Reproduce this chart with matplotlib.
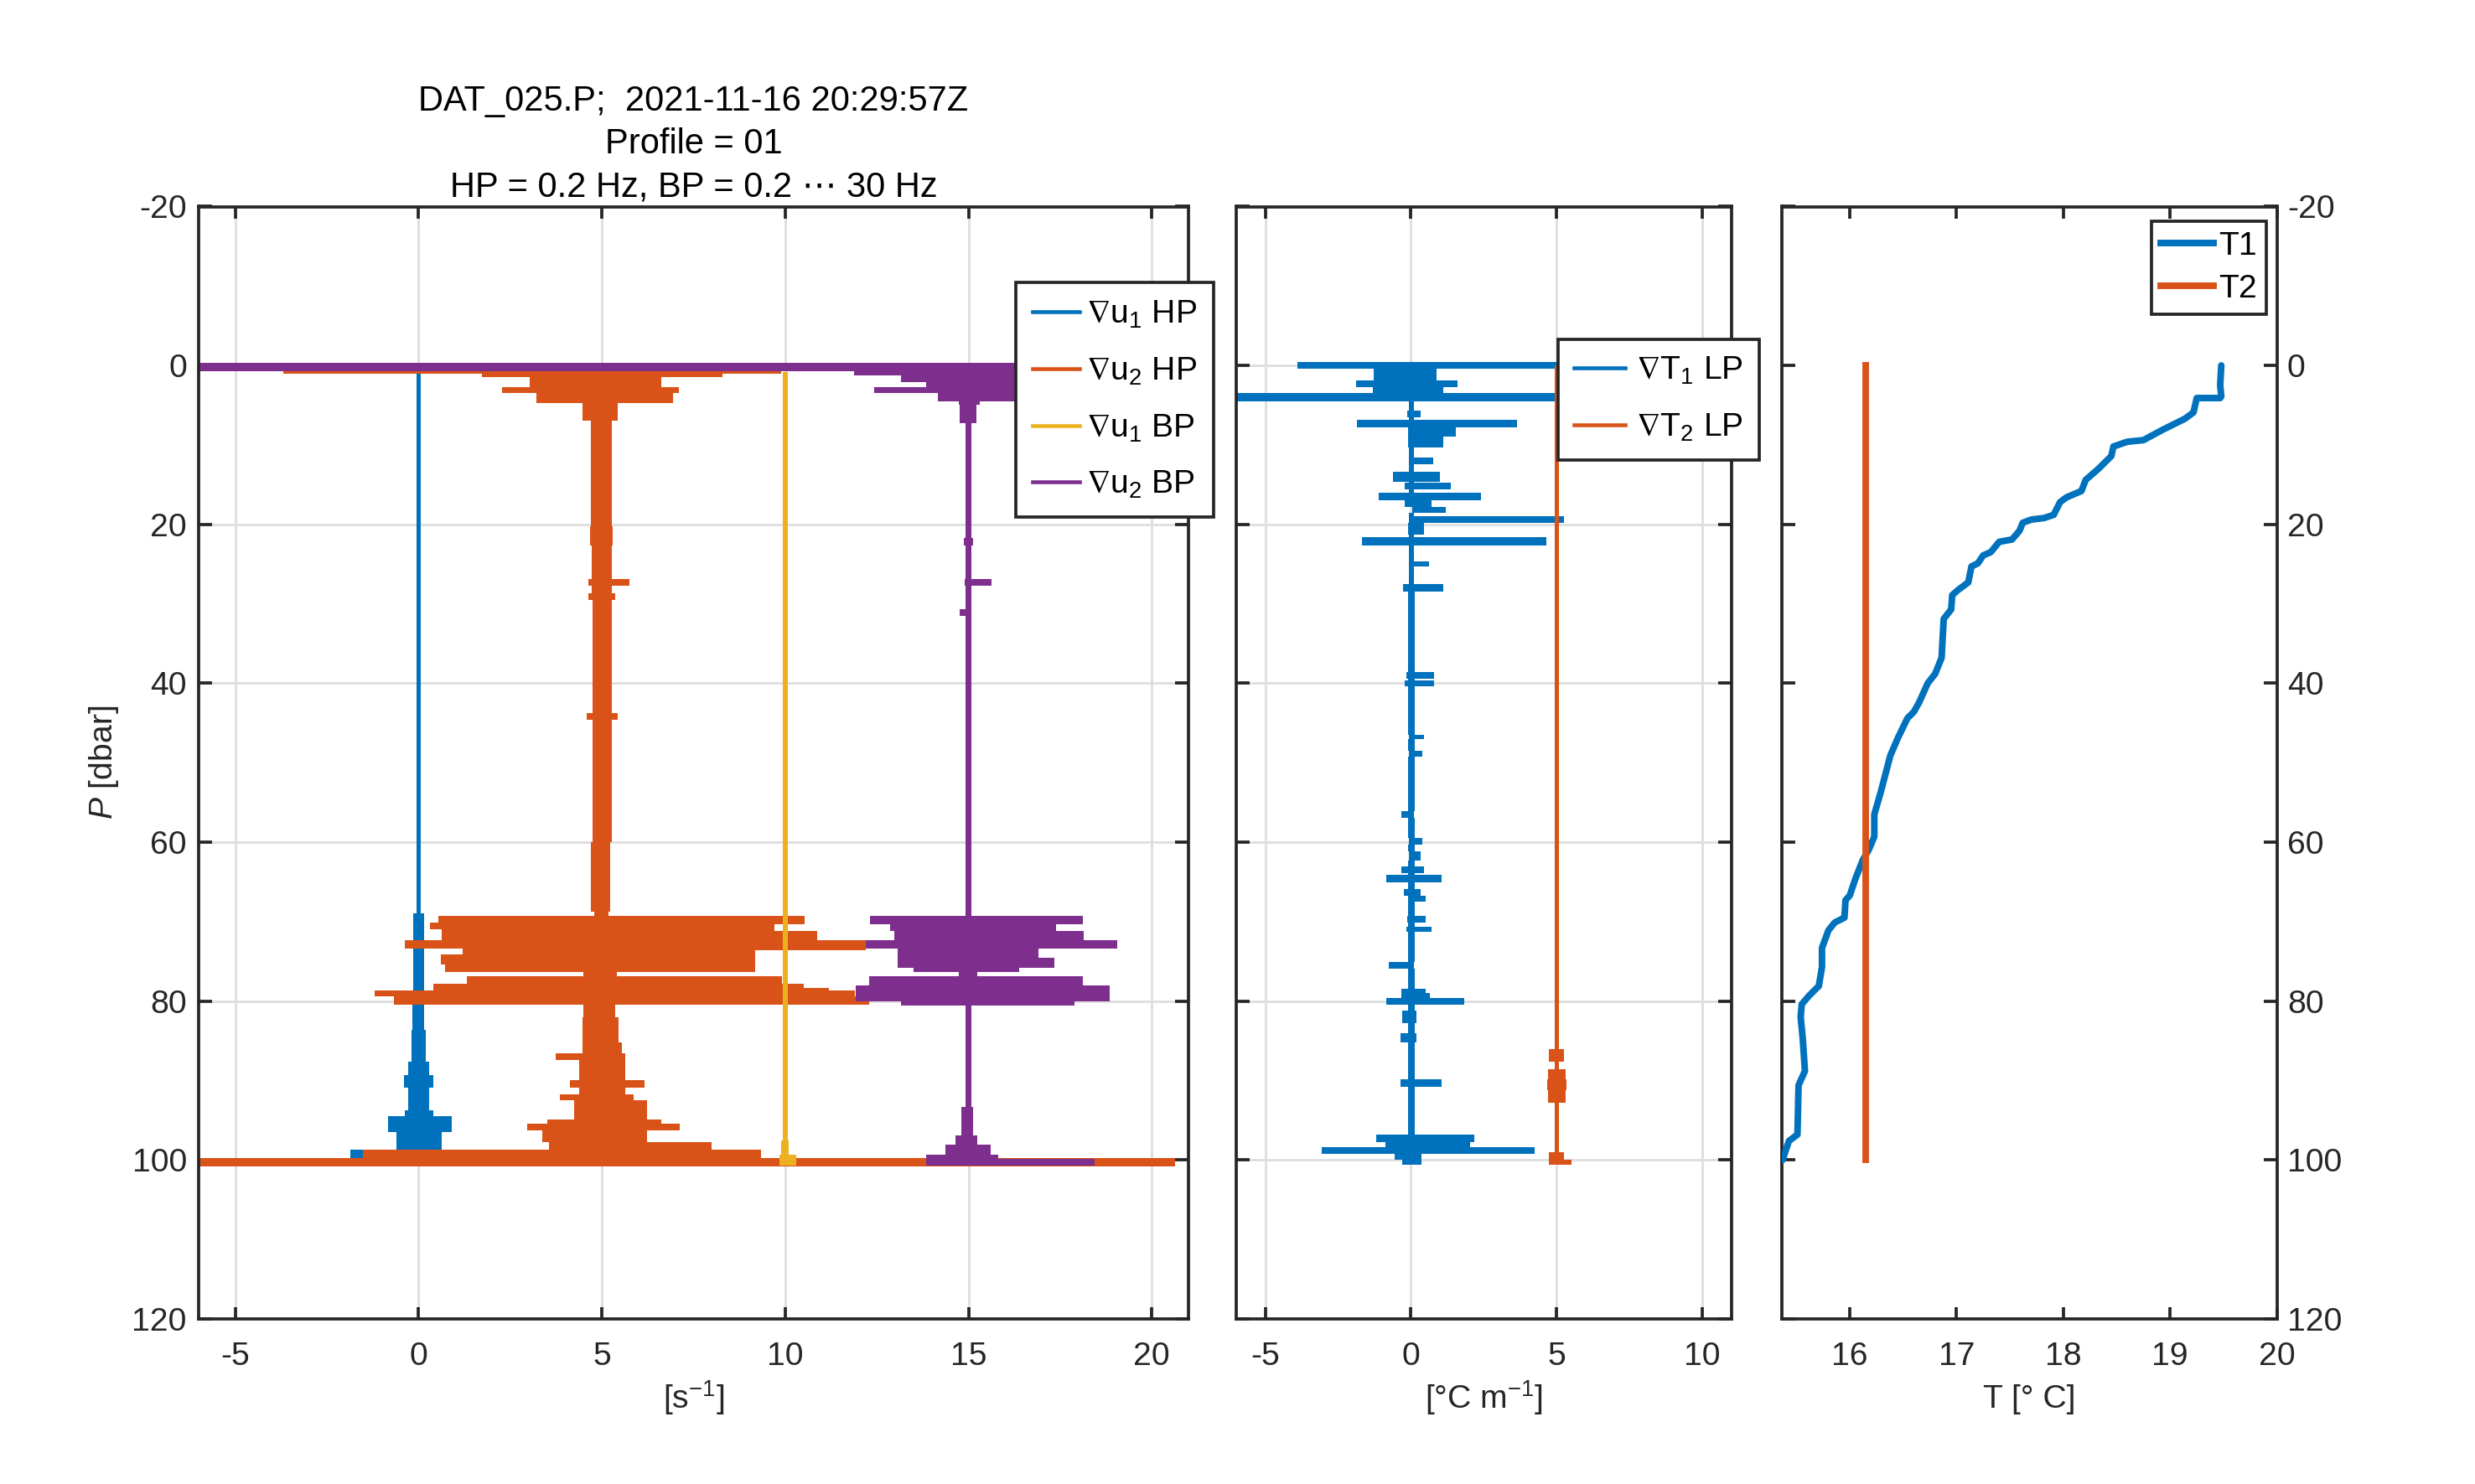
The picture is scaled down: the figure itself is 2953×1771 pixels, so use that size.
import matplotlib
matplotlib.use('Agg')
import matplotlib.pyplot as plt
from matplotlib.lines import Line2D

plt.rcParams['font.family'] = ['Liberation Sans', 'DejaVu Sans']
plt.rcParams['mathtext.fontset'] = 'custom'
plt.rcParams['mathtext.rm'] = 'Liberation Sans'
plt.rcParams['mathtext.it'] = 'Liberation Sans:italic'
plt.rcParams['mathtext.bf'] = 'Liberation Sans:bold'
plt.rcParams['mathtext.fallback'] = 'stixsans'
plt.rcParams['axes.unicode_minus'] = False

# ---------------- data (envelopes of the noisy profiles) ----------------
# value i holds from p[i] to p[i+1]
u1hp_p  = [0.9, 69.0, 80.4, 83.6, 87.6, 89.3, 90.9, 93.7, 94.5, 96.5, 98.7, 99.7]
u1hp_lo = [-0.06, -0.14, -0.16, -0.2, -0.29, -0.41, -0.29, -0.37, -0.84, -0.6, -1.87, -1.87]
u1hp_hi = [0.06, 0.14, 0.16, 0.19, 0.28, 0.41, 0.29, 0.39, 0.9, 0.63, 0.84, 0.84]

u2hp_p  = [0.69, 1.09, 1.49, 2.70, 3.51, 4.72, 6.94, 20.2, 22.7, 26.9, 27.7, 28.7, 29.5, 43.8, 44.6,
           60.0, 68.7, 69.26, 70.14, 70.34, 70.95, 71.15, 72.35, 73.36, 73.56, 74.16, 75.37, 76.38,
           76.86, 77.79, 78.39, 78.71, 79.4, 80.4, 82.0, 85.2, 86.6, 87.4, 89.9, 90.9, 91.7, 92.5,
           94.9, 95.4, 96.3, 97.7, 98.7, 99.7, 100.8]
u2hp_lo = [-3.7, 1.72, 3.03, 2.27, 3.21, 4.47, 4.71, 4.68, 4.72, 4.62, 4.72, 4.62, 4.74, 4.58, 4.74,
           4.71, 4.78, 0.54, 0.32, 0.32, 0.63, 0.63, -0.37, 1.2, 1.2, 0.6, 0.72, 4.5,
           1.32, 0.41, 0.41, -1.21, -0.68, 4.49, 4.47, 4.47, 3.75, 4.38, 4.12, 4.38, 3.86, 4.25,
           3.51, 2.96, 3.38, 3.55, -1.52, -6.0, -6.0]
u2hp_hi = [9.9, 8.3, 6.61, 7.11, 6.94, 5.43, 5.28, 5.30, 5.27, 5.74, 5.27, 5.37, 5.26, 5.42, 5.26,
           5.23, 5.17, 10.53, 10.53, 9.7, 9.7, 10.88, 12.19, 12.19, 9.18, 9.18, 9.18, 5.4,
           9.92, 10.5, 11.2, 11.9, 12.3, 5.36, 5.45, 5.54, 5.63, 5.63, 6.16, 5.63, 5.87, 6.22,
           6.61, 7.13, 6.22, 8.0, 9.35, 20.63, 20.63]

u1bp_p  = [0.8, 97.5, 99.3, 100.7]
u1bp_lo = [9.935, 9.9, 9.85, 9.85]
u1bp_hi = [10.065, 10.1, 10.29, 10.29]

u2bp_p  = [-0.32, 0.69, 1.29, 2.1, 2.7, 3.5, 4.5, 4.9, 7.3, 21.7, 22.7, 26.9, 27.7, 30.7, 31.5,
           69.26, 70.34, 71.15, 72.35, 73.36, 74.57, 75.77, 76.38, 76.86, 77.99, 80.0, 80.6,
           93.28, 96.9, 98.1, 99.3, 99.9, 100.7]
u2bp_lo = [-6.0, 11.88, 13.15, 13.85, 12.43, 14.16, 14.73, 14.77, 14.91, 14.88, 14.91, 14.9, 14.91, 14.75, 14.91,
           12.32, 12.85, 12.98, 12.19, 13.07, 13.07, 13.5, 14.73, 12.28, 11.93, 13.15, 14.91,
           14.81, 14.64, 14.38, 13.85, 13.85, 13.85]
u2bp_hi = [19.5, 19.0, 18.5, 18.0, 17.5, 17.2, 15.3, 15.21, 15.08, 15.12, 15.08, 15.63, 15.08, 15.08, 15.08,
           18.12, 17.39, 18.14, 19.05, 16.91, 17.35, 16.39, 15.25, 18.12, 18.85, 17.88, 15.08,
           15.12, 15.25, 15.61, 15.82, 18.44, 18.44]

gT1_p  = [-0.4, 0.4, 1.9, 2.7, 3.5, 4.52, 5.73, 6.53, 6.85, 7.74, 8.95, 10.36, 11.57, 12.38, 13.39,
          14.6, 14.8, 15.6, 16.0, 17.0, 17.8, 18.5, 18.95, 19.84, 21.25, 21.65, 22.66, 24.68, 25.28,
          27.5, 28.5, 38.6, 39.4, 39.6, 40.4, 46.45, 47.06, 48.47, 49.27, 56.1, 56.9,
          59.5, 60.3, 61.1, 62.3, 63.1, 63.9, 64.1, 65.1, 65.9, 66.7, 67.5, 69.3, 70.1, 70.6, 71.3,
          75.1, 75.9, 78.4, 79.0, 79.6, 80.4, 81.2, 82.8, 84.0, 85.2, 89.8, 90.8, 96.8, 97.8, 98.4,
          99.2, 100.0, 100.6]
gT1_lo = [-3.91, -1.27, -1.89, -1.32, -6.0, -0.06, -0.13, -0.06, -1.84, -0.11, -0.1, -0.06, -0.06, -0.06, -0.61,
          -0.06, -0.22, -0.06, -1.1, -0.22, 0.06, -0.06, -0.06, -0.11, -0.06, -1.67, -0.06, -0.06, -0.06,
          -0.28, -0.09, -0.17, -0.09, -0.22, -0.09, -0.06, -0.09, -0.06, -0.09, -0.33, -0.09,
          -0.06, -0.09, -0.06, -0.09, -0.33, -0.09, -0.85, -0.09, -0.24, -0.11, -0.09, -0.13, -0.09, -0.17, -0.09,
          -0.77, -0.09, -0.33, -0.33, -0.85, -0.09, -0.31, -0.09, -0.35, -0.09, -0.35, -0.09, -1.19, -0.88, -3.05,
          -0.55, -0.3, -0.3]
gT1_hi = [5.5, 0.88, 1.6, 1.1, 5.3, 0.11, 0.33, 0.11, 3.63, 1.54, 1.1, 0.11, 0.77, 0.11, 0.99,
          0.11, 1.38, 0.11, 2.42, 0.72, 1.19, 0.11, 5.25, 0.44, 0.11, 4.64, 0.11, 0.61, 0.11,
          1.1, 0.13, 0.8, 0.13, 0.8, 0.13, 0.44, 0.13, 0.39, 0.13, 0.11, 0.13,
          0.39, 0.13, 0.33, 0.13, 0.44, 0.13, 1.05, 0.13, 0.33, 0.5, 0.13, 0.5, 0.13, 0.72, 0.13,
          0.11, 0.13, 0.5, 0.66, 1.82, 0.13, 0.2, 0.13, 0.2, 0.13, 1.05, 0.13, 2.17, 2.04, 4.24,
          0.36, 0.36, 0.36]

gT2_p  = [0.0, 86.0, 87.6, 88.6, 89.8, 91.2, 92.8, 99.0, 100.0, 100.6]
gT2_lo = [4.93, 4.73, 4.93, 4.72, 4.68, 4.72, 4.93, 4.73, 4.73, 4.73]
gT2_hi = [5.08, 5.25, 5.08, 5.3, 5.34, 5.3, 5.08, 5.25, 5.53, 5.53]

T1_p = [0, 2.5, 3.9, 4.1, 4.1, 5.9, 6.7, 8.1, 9.4, 9.6, 10.2, 11.4, 13.0, 14.4, 15.8, 16.6, 17.2, 18.8,
        19.2, 19.4, 19.8, 20.8, 21.9, 22.2, 23.5, 23.9, 24.9, 25.3, 27.3, 28.3, 28.9, 30.7, 31.9, 36.8,
        38.8, 40.0, 42.4, 43.6, 44.4, 46.9, 49.1, 53.7, 56.5, 59.3, 60.9, 62.3, 64.7, 66.7, 67.3, 69.5,
        70.1, 71.1, 73.3, 75.7, 78.1, 79.3, 80.4, 82.0, 84.8, 88.8, 90.6, 96.8, 97.6, 100.0]
T1 = [19.48, 19.47, 19.48, 19.47, 19.25, 19.22, 19.14, 18.93, 18.75, 18.60, 18.47, 18.45, 18.33, 18.21,
      18.17, 18.03, 17.97, 17.91, 17.82, 17.70, 17.62, 17.59, 17.52, 17.40, 17.32, 17.25, 17.20, 17.14,
      17.11, 17.01, 16.96, 16.95, 16.88, 16.86, 16.80, 16.73, 16.65, 16.60, 16.54, 16.45, 16.38, 16.29,
      16.23, 16.23, 16.18, 16.12, 16.05, 16.00, 15.96, 15.95, 15.86, 15.80, 15.74, 15.74, 15.71, 15.62,
      15.55, 15.54, 15.56, 15.58, 15.52, 15.51, 15.43, 15.37]
T2_p = [0.0, 100.0]
T2 = [16.15, 16.15]

title_lines = ['DAT_025.P;  2021-11-16 20:29:57Z', 'Profile = 01', 'HP = 0.2 Hz, BP = 0.2 \u22ef 30 Hz']
shear_labels = [r'$\nabla\mathrm{u}_1$ HP', r'$\nabla\mathrm{u}_2$ HP',
                r'$\nabla\mathrm{u}_1$ BP', r'$\nabla\mathrm{u}_2$ BP']
grad_labels = [r'$\nabla\mathrm{T}_1$ LP', r'$\nabla\mathrm{T}_2$ LP']
temp_labels = ['T1', 'T2']

C_BLUE, C_ORANGE, C_YELLOW, C_PURPLE = '#0072BD', '#D95319', '#EDB120', '#7E2F8E'
EDGE = '#262626'
FS = 9.4

W, H = 2953, 1771
fig = plt.figure(figsize=(W / 300, H / 300), dpi=300)


def fpos(l, r, t, b):
    return [l / W, 1 - b / H, (r - l) / W, (b - t) / H]


ax1 = fig.add_axes(fpos(237, 1418, 246.5, 1574))
ax2 = fig.add_axes(fpos(1475, 2065.5, 246.5, 1574))
ax3 = fig.add_axes(fpos(2125.5, 2716.5, 246.5, 1574))


def style(ax, grid):
    for s in ax.spines.values():
        s.set_linewidth(0.9)
        s.set_color(EDGE)
    ax.tick_params(axis='both', which='major', direction='in', top=True, right=True,
                   width=0.9, color=EDGE, labelcolor=EDGE, labelsize=FS)
    ax.tick_params(axis='x', length=3.3, pad=6.5)
    ax.tick_params(axis='y', length=3.8, pad=3.4)
    if grid:
        ax.grid(True, color='#dfdfdf', linewidth=0.7)
    ax.set_axisbelow(True)
    ax.set_ylim(120, -20)
    ax.set_yticks(list(range(-20, 121, 20)))


def band(ax, p, lo, hi, color):
    ax.fill_betweenx(p, lo, hi, step='post', color=color, linewidth=0, zorder=2)


leg_kw = dict(loc='upper left', bbox_transform=fig.transFigure, fontsize=FS, fancybox=False,
              framealpha=1, edgecolor=EDGE, borderaxespad=0)

# ---- panel 1: shear ----
style(ax1, True)
band(ax1, u1hp_p, u1hp_lo, u1hp_hi, C_BLUE)
band(ax1, u2hp_p, u2hp_lo, u2hp_hi, C_ORANGE)
band(ax1, u1bp_p, u1bp_lo, u1bp_hi, C_YELLOW)
band(ax1, u2bp_p, u2bp_lo, u2bp_hi, C_PURPLE)
ax1.set_xlim(-6, 21)
ax1.set_xticks([-5, 0, 5, 10, 15, 20])
ax1.set_xlabel(r'[s$^{-1}$]', fontsize=FS, color=EDGE, labelpad=2)
ax1.set_ylabel(r'$P$ [dbar]', fontsize=FS, color=EDGE, labelpad=3.2)
ax1.set_title('\n'.join(title_lines), fontsize=10.0, pad=3, linespacing=1.35)
h1 = [Line2D([], [], color=c, lw=1.1) for c in (C_BLUE, C_ORANGE, C_YELLOW, C_PURPLE)]
leg1 = ax1.legend(h1, shear_labels, bbox_to_anchor=(1212 / W, 1 - 337 / H), borderpad=0.5,
                  labelspacing=0.78, handlelength=1.45, handletextpad=0.2, **leg_kw)
leg1.get_frame().set_linewidth(0.9)
leg1.set_zorder(10)

# ---- panel 2: temperature gradient ----
style(ax2, True)
band(ax2, gT1_p, gT1_lo, gT1_hi, C_BLUE)
band(ax2, gT2_p, gT2_lo, gT2_hi, C_ORANGE)
ax2.set_xlim(-6, 11)
ax2.set_xticks([-5, 0, 5, 10])
ax2.tick_params(labelleft=False)
ax2.set_xlabel('[\u00b0C m$^{-1}$]', fontsize=FS, color=EDGE, labelpad=2)
h2 = [Line2D([], [], color=c, lw=1.1) for c in (C_BLUE, C_ORANGE)]
leg2 = ax2.legend(h2, grad_labels, bbox_to_anchor=(1858.6 / W, 1 - 404.5 / H), borderpad=0.5,
                  labelspacing=0.78, handlelength=1.55, handletextpad=0.33, **leg_kw)
leg2.get_frame().set_linewidth(0.9)
leg2.set_zorder(10)

# ---- panel 3: temperature ----
style(ax3, False)
ax3.plot(T1, T1_p, color=C_BLUE, lw=1.9, solid_capstyle='round', solid_joinstyle='round', zorder=3)
ax3.plot(T2, T2_p, color=C_ORANGE, lw=1.9, zorder=3)
ax3.set_xlim(15.36, 20)
ax3.set_xticks([16, 17, 18, 19, 20])
ax3.tick_params(labelleft=False, labelright=True)
ax3.tick_params(axis='y', pad=3.0)
ax3.set_xlabel('T [\u00b0 C]', fontsize=FS, color=EDGE, labelpad=3.5)
h3 = [Line2D([], [], color=c, lw=1.9) for c in (C_BLUE, C_ORANGE)]
leg3 = ax3.legend(h3, temp_labels, bbox_to_anchor=(2566.7 / W, 1 - 263.8 / H), borderpad=0.3,
                  labelspacing=0.39, handlelength=1.6, handletextpad=0.15, **leg_kw)
leg3.get_frame().set_linewidth(0.9)

fig.savefig('out.png', dpi=300)
